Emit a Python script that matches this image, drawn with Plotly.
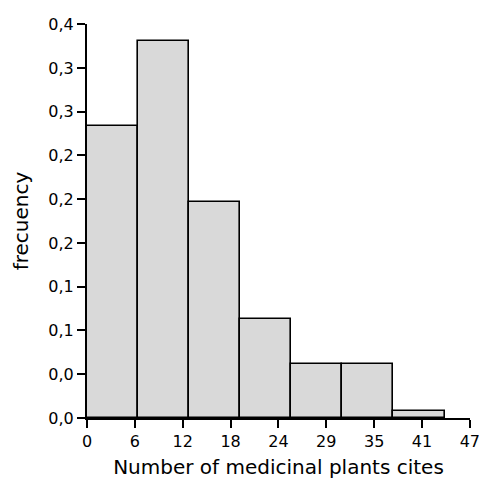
import plotly.graph_objects as go

# Histogram data
bin_edges = [0, 6.27, 12.54, 18.81, 25.08, 31.35, 37.62, 43.89]
frequencies = [0.297, 0.383, 0.219, 0.1005, 0.055, 0.055, 0.007]

x_tick_vals = [0, 5.875, 11.75, 17.625, 23.5, 29.375, 35.25, 41.125, 47]
x_tick_text = ["0", "6", "12", "18", "24", "29", "35", "41", "47"]
y_tick_vals = [0.4 * i / 9 for i in range(10)]
y_tick_text = ["0,0", "0,0", "0,1", "0,1", "0,2", "0,2", "0,2", "0,3", "0,3", "0,4"]

centers = [(a + b) / 2 for a, b in zip(bin_edges[:-1], bin_edges[1:])]
widths = [b - a for a, b in zip(bin_edges[:-1], bin_edges[1:])]

fig = go.Figure(go.Bar(
    x=centers, y=frequencies, width=widths,
    marker=dict(color="#d9d9d9", line=dict(color="black", width=1.6)),
))

font = dict(family="DejaVu Sans", size=16, color="black")
title_font = dict(family="DejaVu Sans", size=20, color="black")
fig.update_layout(
    width=479, height=487,
    margin=dict(l=87, r=9, t=24, b=69),
    plot_bgcolor="white", paper_bgcolor="white",
    showlegend=False, bargap=0,
    font=font,
)
fig.update_xaxes(
    range=[0, 47.02], tickvals=x_tick_vals, ticktext=x_tick_text,
    showline=True, linecolor="black", linewidth=2,
    ticks="outside", ticklen=8, tickwidth=2, tickcolor="black",
    showgrid=False, zeroline=False, automargin=False,
    ticklabeloverflow="allow",
    title=dict(text="Number of medicinal plants cites", font=title_font, standoff=10),
    tickfont=font,
)
fig.update_yaxes(
    range=[0, 0.4002], tickvals=y_tick_vals, ticktext=y_tick_text,
    showline=True, linecolor="black", linewidth=2,
    ticks="outside", ticklen=8, tickwidth=2, tickcolor="black",
    showgrid=False, zeroline=False, automargin=False,
    title=dict(text="frecuency", font=title_font, standoff=14),
    tickfont=font,
)

fig.write_html("out.html", config={"displayModeBar": False},
               post_script="document.body.style.margin='0';")
